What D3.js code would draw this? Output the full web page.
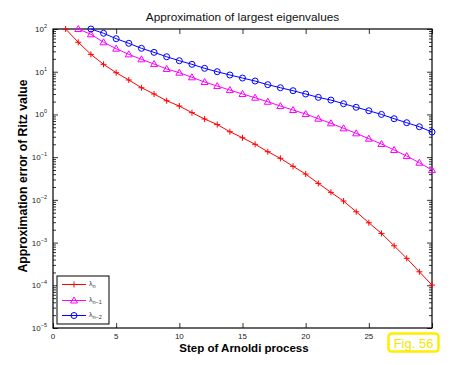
<!DOCTYPE html>
<html>
<head>
<meta charset="utf-8">
<script src="https://cdn.jsdelivr.net/npm/d3@7"></script>
<style>
  body { margin: 0; background: #fff; }
  text { font-family: "Liberation Sans", Arial, sans-serif; }
</style>
</head>
<body>
<svg id="svg"></svg>
<script>
// data
let redSteps = d3.range(1, 31);
let redVals = [100, 48.9, 25.5, 14.9, 9.48, 6.40, 4.22, 3.01, 2.09, 1.57, 1.10, 0.780, 0.579, 0.394, 0.284,
  0.200, 0.134, 0.0938, 0.061, 0.0402, 0.0243, 0.0150, 0.00938, 0.00526, 0.00291, 0.00164, 0.000841,
  0.000427, 0.000207, 0.000101];
let magSteps = d3.range(2, 31);
let magVals = [100, 75.2, 48.9, 34.6, 25.5, 19.5, 15.1, 11.6, 9.48, 7.40, 5.74, 4.62, 3.72, 3.01, 2.46,
  1.98, 1.57, 1.27, 1.02, 0.794, 0.619, 0.472, 0.361, 0.270, 0.203, 0.147, 0.106, 0.074, 0.0499];
let blueSteps = d3.range(3, 31);
let blueVals = [100, 79.4, 59.3, 46.2, 35.3, 28.4, 22.4, 18.1, 14.9, 12.0, 10.0, 8.38, 7.11, 6.05, 4.97,
  4.22, 3.59, 3.01, 2.51, 2.17, 1.78, 1.47, 1.22, 1.00, 0.794, 0.640, 0.515, 0.387];
let xTicks = [0, 5, 10, 15, 20, 25, 30];
let yExps = [-5, -4, -3, -2, -1, 0, 1, 2];
let legendSubs = ["n", "n\u22121", "n\u22122"];

let width = 450;
let height = 365;
let pLeft = 53, pTop = 29, pRight = 432, pBottom = 328;

let svg = d3.select("#svg").attr("width", width).attr("height", height);

let xScale = d3.scaleLinear().domain([0, 30]).range([pLeft, pRight]);
let yScale = d3.scaleLog().domain([1e-5, 1e2]).range([pBottom, pTop]);

// minor log ticks
let minor = [];
yExps.slice(0, -1).forEach(e => {
  for (let m = 2; m <= 9; m++) minor.push(m * Math.pow(10, e));
});

let makeAxes = () => {
  let fmtNone = () => "";
  let majors = yExps.map(e => Math.pow(10, e));
  svg.append("g").attr("transform", "translate(0," + pBottom + ")")
    .call(d3.axisBottom(xScale).tickValues(xTicks).tickSize(-5).tickFormat(fmtNone));
  svg.append("g").attr("transform", "translate(0," + pTop + ")")
    .call(d3.axisTop(xScale).tickValues(xTicks).tickSize(-5).tickFormat(fmtNone));
  svg.append("g").attr("transform", "translate(" + pLeft + ",0)")
    .call(d3.axisLeft(yScale).tickValues(majors).tickSize(-5).tickFormat(fmtNone));
  svg.append("g").attr("transform", "translate(" + pLeft + ",0)")
    .call(d3.axisLeft(yScale).tickValues(minor).tickSize(-3).tickFormat(fmtNone));
  svg.append("g").attr("transform", "translate(" + pRight + ",0)")
    .call(d3.axisRight(yScale).tickValues(majors).tickSize(-5).tickFormat(fmtNone));
  svg.append("g").attr("transform", "translate(" + pRight + ",0)")
    .call(d3.axisRight(yScale).tickValues(minor).tickSize(-3).tickFormat(fmtNone));

  svg.selectAll(".domain").remove();
  svg.selectAll(".tick line").attr("stroke", "#000").attr("stroke-width", 0.8);

  svg.append("rect")
    .attr("x", pLeft).attr("y", pTop)
    .attr("width", pRight - pLeft).attr("height", pBottom - pTop)
    .attr("fill", "none").attr("stroke", "#000").attr("stroke-width", 1.2);

  // tick labels
  svg.selectAll(".xlab").data(xTicks).enter().append("text")
    .attr("x", d => xScale(d)).attr("y", 339)
    .attr("text-anchor", "middle").attr("font-size", 8).attr("fill", "#222")
    .text(d => d);

  let ylab = svg.selectAll(".ylab").data(yExps).enter().append("text")
    .attr("x", 47).attr("y", d => yScale(Math.pow(10, d)) + 3)
    .attr("text-anchor", "end").attr("font-size", 8).attr("fill", "#222");
  ylab.append("tspan").text("10");
  ylab.append("tspan").attr("dy", -4).attr("font-size", 5.5).text(d => d < 0 ? "\u2212" + (-d) : d);
}

let drawMark = (g, type, x, y, color) => {
  if (type === "plus") {
    g.append("path").attr("d", `M${x - 3},${y}H${x + 3}M${x},${y - 3}V${y + 3}`)
      .attr("stroke", color).attr("stroke-width", 1);
  } else if (type === "tri") {
    g.append("path").attr("d", `M${x},${y - 3.5}L${x + 3.5},${y + 2.5}L${x - 3.5},${y + 2.5}Z`)
      .attr("fill", "none").attr("stroke", color).attr("stroke-width", 1);
  } else {
    g.append("circle").attr("cx", x).attr("cy", y).attr("r", 3)
      .attr("fill", "none").attr("stroke", color).attr("stroke-width", 1);
  }
}

let makeLines = () => {
  let line = d3.line().x(d => xScale(d[0])).y(d => yScale(d[1]));
  let series = [
    { steps: redSteps, vals: redVals, color: "#ff0000", mark: "plus" },
    { steps: magSteps, vals: magVals, color: "#ff00ff", mark: "tri" },
    { steps: blueSteps, vals: blueVals, color: "#0000ff", mark: "circ" }
  ];
  series.forEach(s => {
    let pts = s.steps.map((st, i) => [st, s.vals[i]]);
    svg.append("path").datum(pts)
      .attr("d", line).attr("fill", "none").attr("stroke", s.color).attr("stroke-width", 1);
    let g = svg.append("g");
    pts.forEach(p => drawMark(g, s.mark, xScale(p[0]), yScale(p[1]), s.color));
  });

  // legend
  let lg = svg.append("g");
  lg.append("rect").attr("x", 57).attr("y", 276).attr("width", 52).attr("height", 48)
    .attr("fill", "#fff").attr("stroke", "#000").attr("stroke-width", 1);
  let rows = [284.5, 300.5, 315.5];
  series.forEach((s, i) => {
    lg.append("line").attr("x1", 62).attr("x2", 86).attr("y1", rows[i]).attr("y2", rows[i])
      .attr("stroke", s.color).attr("stroke-width", 1);
    drawMark(lg, s.mark, 74, rows[i], s.color);
    let t = lg.append("text").attr("x", 89).attr("y", rows[i] + 1).attr("font-size", 7).attr("fill", "#333");
    t.append("tspan").text("\u03bb");
    t.append("tspan").attr("dy", 2).attr("font-size", 5.5).text(legendSubs[i]);
  });
}

let makeText = () => {
  svg.append("text").attr("x", (pLeft + pRight) / 2).attr("y", 21)
    .attr("text-anchor", "middle").attr("font-size", 11.8).attr("fill", "#111")
    .text("Approximation of largest eigenvalues");
  svg.append("text").attr("x", 244).attr("y", 352)
    .attr("text-anchor", "middle").attr("font-size", 11.5).attr("font-weight", "bold")
    .text("Step of Arnoldi process");
  svg.append("text").attr("transform", "translate(27,176) rotate(-90)")
    .attr("text-anchor", "middle").attr("font-size", 12.2).attr("font-weight", "bold")
    .text("Approximation error of Ritz value");

  // figure tag
  svg.append("rect").attr("x", 388.5).attr("y", 333.5).attr("width", 50).attr("height", 18).attr("rx", 3)
    .attr("fill", "#fff").attr("stroke", "#ffee00").attr("stroke-width", 2.5);
  svg.append("text").attr("x", 413.5).attr("y", 348).attr("text-anchor", "middle")
    .attr("font-size", 13).attr("fill", "#f5e600").text("Fig. 56");
}

makeAxes();
makeLines();
makeText();
</script>
</body>
</html>
